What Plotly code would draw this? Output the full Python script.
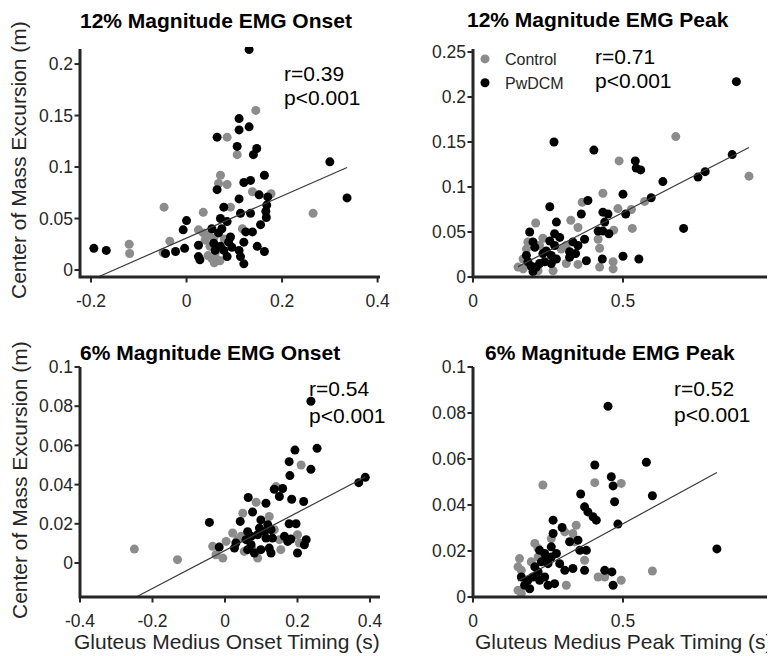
import plotly.graph_objects as go

# screenshot size and page offset (browser body margin)
SW, SH = 775, 656
OFF = 8
W, H = SW - OFF, SH - OFF

# ---------------- data ----------------
# Panel A: 12% Magnitude EMG Onset
a_ctrl_x = [0.145, 0.085, 0.106, 0.071, 0.067, 0.085, 0.138, 0.177, 0.265, -0.047, -0.120, -0.119,
            -0.049, -0.035, 0.035, 0.092, 0.117, 0.025, 0.035, 0.046, 0.057, 0.039, 0.049, 0.060,
            0.064, 0.053, 0.058, 0.070, 0.045, 0.079]
a_ctrl_y = [0.155, 0.129, 0.112, 0.092, 0.084, 0.083, 0.076, 0.074, 0.055, 0.061, 0.025, 0.016,
            0.017, 0.028, 0.056, 0.061, 0.040, 0.039, 0.036, 0.034, 0.031, 0.029, 0.023, 0.016,
            0.010, 0.011, 0.007, 0.009, 0.014, 0.030]
a_pw_x = [0.131, -0.194, -0.168, -0.044, -0.023, -0.007, 0.000, -0.004, 0.025, 0.025, 0.028,
          0.064, 0.064, 0.110, 0.110, 0.106, 0.131, 0.147, 0.140, 0.120, 0.134, 0.163, 0.110,
          0.152, 0.170, 0.168, 0.166, 0.167, 0.078, 0.134, 0.113, 0.155, 0.071, 0.085, 0.074,
          0.053, 0.067, 0.092, 0.088, 0.095, 0.124, 0.138, 0.120, 0.148, 0.163, 0.057, 0.071,
          0.060, 0.078, 0.085, 0.110, 0.113, 0.120, 0.300, 0.336]
a_pw_y = [0.214, 0.021, 0.019, 0.016, 0.018, 0.039, 0.048, 0.021, 0.024, 0.013, 0.010,
          0.129, 0.078, 0.147, 0.136, 0.120, 0.139, 0.118, 0.112, 0.085, 0.087, 0.092, 0.069,
          0.073, 0.071, 0.063, 0.057, 0.051, 0.061, 0.055, 0.055, 0.044, 0.050, 0.047, 0.040,
          0.040, 0.036, 0.032, 0.027, 0.022, 0.037, 0.037, 0.027, 0.023, 0.018, 0.026, 0.023,
          0.019, 0.019, 0.013, 0.019, 0.013, 0.006, 0.105, 0.070]

# Panel B: 12% Magnitude EMG Peak
b_ctrl_x = [0.676, 0.487, 0.920, 0.433, 0.364, 0.572, 0.483, 0.528, 0.531, 0.469, 0.326, 0.209,
            0.350, 0.417, 0.422, 0.183, 0.233, 0.222, 0.294, 0.311, 0.150, 0.167, 0.217, 0.267,
            0.311, 0.350, 0.422, 0.467, 0.467, 0.178, 0.167]
b_ctrl_y = [0.156, 0.129, 0.112, 0.093, 0.083, 0.084, 0.076, 0.075, 0.054, 0.052, 0.063, 0.060,
            0.055, 0.042, 0.032, 0.039, 0.043, 0.035, 0.031, 0.035, 0.011, 0.009, 0.007, 0.007,
            0.015, 0.014, 0.011, 0.017, 0.009, 0.031, 0.020]
b_pw_x = [0.878, 0.270, 0.403, 0.541, 0.544, 0.559, 0.633, 0.500, 0.594, 0.750, 0.774, 0.864,
          0.702, 0.383, 0.256, 0.361, 0.433, 0.450, 0.509, 0.278, 0.439, 0.433, 0.417, 0.453,
          0.189, 0.272, 0.289, 0.200, 0.206, 0.372, 0.333, 0.350, 0.256, 0.272, 0.244, 0.261,
          0.233, 0.322, 0.342, 0.322, 0.178, 0.183, 0.194, 0.211, 0.200, 0.222, 0.239, 0.278,
          0.261, 0.378, 0.431, 0.500, 0.553]
b_pw_y = [0.217, 0.150, 0.141, 0.129, 0.121, 0.119, 0.106, 0.092, 0.088, 0.111, 0.117, 0.136,
          0.054, 0.085, 0.078, 0.070, 0.072, 0.070, 0.070, 0.061, 0.061, 0.051, 0.051, 0.048,
          0.050, 0.048, 0.044, 0.039, 0.033, 0.042, 0.039, 0.035, 0.040, 0.035, 0.029, 0.024,
          0.026, 0.028, 0.026, 0.022, 0.024, 0.017, 0.012, 0.011, 0.006, 0.015, 0.017, 0.020,
          0.015, 0.018, 0.020, 0.023, 0.020]

# Panel C: 6% Magnitude EMG Onset
c_ctrl_x = [0.210, 0.141, 0.086, 0.049, 0.122, 0.021, 0.044, 0.035, 0.003, -0.034, -0.025, -0.006,
            0.076, 0.090, 0.053, 0.150, 0.154, 0.200, 0.205, 0.136, -0.250, -0.131]
c_ctrl_y = [0.0500, 0.0390, 0.0310, 0.0254, 0.0237, 0.0153, 0.0136, 0.0119, 0.0110, 0.0085, 0.0042,
            0.0025, 0.0068, 0.0025, 0.0059, 0.0119, 0.0068, 0.0144, 0.0102, 0.0170, 0.0071, 0.0017]
c_pw_x = [0.237, 0.254, 0.193, 0.177, 0.237, 0.179, 0.369, 0.387, 0.136, 0.159, 0.150, 0.184,
          0.217, 0.064, 0.113, 0.076, -0.043, 0.042, 0.099, 0.118, 0.095, 0.109, 0.127, 0.090,
          0.113, 0.131, 0.177, 0.196, 0.0625, 0.072, 0.058, 0.072, 0.0625, 0.081, 0.030, 0.026,
          -0.016, 0.122, 0.127, 0.099, 0.164, 0.173, 0.182, 0.224, 0.219, 0.200]
c_pw_y = [0.0825, 0.0585, 0.0576, 0.0517, 0.0478, 0.0446, 0.0410, 0.0437, 0.0376, 0.0380, 0.0339,
          0.0325, 0.0314, 0.0334, 0.0305, 0.0260, 0.0207, 0.0212, 0.0220, 0.0195, 0.0178, 0.0160,
          0.0170, 0.0144, 0.0127, 0.0127, 0.0200, 0.0200, 0.0160, 0.0136, 0.0119, 0.0093, 0.0068,
          0.0051, 0.0102, 0.0076, 0.0081, 0.0076, 0.0051, 0.0068, 0.0136, 0.0110, 0.0122, 0.0119,
          0.0093, 0.0051]

# Panel D: 6% Magnitude EMG Peak
d_ctrl_x = [0.233, 0.406, 0.494, 0.206, 0.217, 0.261, 0.306, 0.333, 0.344, 0.339, 0.372, 0.155,
            0.150, 0.161, 0.150, 0.161, 0.311, 0.417, 0.439, 0.494, 0.217, 0.194, 0.598]
d_ctrl_y = [0.0487, 0.0497, 0.0494, 0.0233, 0.0211, 0.0254, 0.0283, 0.0276, 0.0312, 0.0240, 0.0160,
            0.0167, 0.0131, 0.0116, 0.0029, 0.0015, 0.0051, 0.0087, 0.0087, 0.0073, 0.0174, 0.0153,
            0.0113]
d_pw_x = [0.450, 0.406, 0.578, 0.461, 0.467, 0.598, 0.472, 0.359, 0.372, 0.383, 0.400, 0.411,
          0.483, 0.267, 0.297, 0.267, 0.322, 0.350, 0.356, 0.378, 0.222, 0.239, 0.244, 0.228,
          0.250, 0.261, 0.261, 0.278, 0.289, 0.306, 0.333, 0.372, 0.439, 0.463, 0.467, 0.206,
          0.217, 0.200, 0.222, 0.239, 0.183, 0.161, 0.172, 0.189, 0.250, 0.272, 0.813]
d_pw_y = [0.0829, 0.0574, 0.0586, 0.0523, 0.0483, 0.0440, 0.0414, 0.0448, 0.0392, 0.0370, 0.0349,
          0.0334, 0.0317, 0.0334, 0.0302, 0.0276, 0.0240, 0.0247, 0.0203, 0.0203, 0.0203, 0.0189,
          0.0167, 0.0153, 0.0145, 0.0218, 0.0174, 0.0189, 0.0145, 0.0116, 0.0124, 0.0116, 0.0116,
          0.0109, 0.0051, 0.0131, 0.0109, 0.0087, 0.0073, 0.0087, 0.0073, 0.0087, 0.0051, 0.0036,
          0.0051, 0.0058, 0.0209]

# regression lines (slope, intercept) and stats text
fit_slope = [0.204, 0.172, 0.0969, 0.0711]
fit_intercept = [0.031, -0.0143, 0.0064, -0.0037]
r_text = ["r=0.39", "r=0.71", "r=0.54", "r=0.52"]
p_text = ["p&lt;0.001", "p&lt;0.001", "p&lt;0.001", "p&lt;0.001"]
titles = ["12% Magnitude EMG Onset", "12% Magnitude EMG Peak",
          "6% Magnitude EMG Onset", "6% Magnitude EMG Peak"]
x_titles = ["Gluteus Medius Onset Timing (s)", "Gluteus Medius Peak Timing (s)"]
y_title = "Center of Mass Excursion (m)"

# axis limits (as in the reference) and ticks
x_limits = [[-0.223, 0.405], [0, 1.0067], [-0.4, 0.4276], [0, 1.0067]]
y_limits = [[-0.0068, 0.2146], [0, 0.2533], [-0.01735, 0.1], [0, 0.1]]
x_ticks = [[-0.2, 0, 0.2, 0.4], [0, 0.5, 1], [-0.4, -0.2, 0, 0.2, 0.4], [0, 0.5, 1]]
x_ticktext = [["-0.2", "0", "0.2", "0.4"], ["0", "0.5", "1"],
              ["-0.4", "-0.2", "0", "0.2", "0.4"], ["0", "0.5", "1"]]
y_ticks = [[0, 0.05, 0.1, 0.15, 0.2], [0, 0.05, 0.1, 0.15, 0.2, 0.25],
           [0, 0.02, 0.04, 0.06, 0.08, 0.1], [0, 0.02, 0.04, 0.06, 0.08, 0.1]]
y_ticktext = [["0", "0.05", "0.1", "0.15", "0.2"], ["0", "0.05", "0.1", "0.15", "0.2", "0.25"],
              ["0", "0.02", "0.04", "0.06", "0.08", "0.1"], ["0", "0.02", "0.04", "0.06", "0.08", "0.1"]]

panels = [
    (a_ctrl_x, a_ctrl_y, a_pw_x, a_pw_y),
    (b_ctrl_x, b_ctrl_y, b_pw_x, b_pw_y),
    (c_ctrl_x, c_ctrl_y, c_pw_x, c_pw_y),
    (d_ctrl_x, d_ctrl_y, d_pw_x, d_pw_y),
]

# ---------------- layout geometry (screen pixels) ----------------
boxes = [(80, 380, 49, 277), (473, 775, 49, 277), (80, 380, 367, 597), (473, 775, 367, 597)]
PAD_L, PAD_B, PAD_T = 6, 11, 2     # extra plot area holding axis lines and outward ticks
TICK_PX = 5.5


def px(x):
    return (x - OFF) / W


def py(y):
    return 1 - (y - OFF) / H


FONT = "Liberation Sans, Arial, Helvetica, sans-serif"
GRAY = "#8c8c8c"
AXC = "#262626"
LINEC = "#262626"

fig = go.Figure()
layout = {}

for i, (cx, cy, pxs, pys) in enumerate(panels):
    xa = "x" if i == 0 else f"x{i+1}"
    ya = "y" if i == 0 else f"y{i+1}"
    xk = "xaxis" if i == 0 else f"xaxis{i+1}"
    yk = "yaxis" if i == 0 else f"yaxis{i+1}"
    L, R, T, B = boxes[i]
    x0l, x1l = x_limits[i]
    y0l, y1l = y_limits[i]
    sx = (R - L) / (x1l - x0l)
    sy = (B - T) / (y1l - y0l)

    fig.add_trace(go.Scatter(x=cx, y=cy, mode="markers", name="Control",
                             marker=dict(color=GRAY, size=9, line=dict(width=0)),
                             xaxis=xa, yaxis=ya, showlegend=(i == 1)))
    fig.add_trace(go.Scatter(x=pxs, y=pys, mode="markers", name="PwDCM",
                             marker=dict(color="#000000", size=9, line=dict(width=0)),
                             xaxis=xa, yaxis=ya, showlegend=(i == 1)))

    # regression line across the data range, clipped at the lower axis limit
    allx = list(cx) + list(pxs)
    xs = max(min(allx), (y0l - fit_intercept[i]) / fit_slope[i])
    lx = [xs, max(allx)]
    ly = [fit_intercept[i] + fit_slope[i] * v for v in lx]
    fig.add_trace(go.Scatter(x=lx, y=ly, mode="lines", line=dict(color="#3a3a3a", width=1.2),
                             xaxis=xa, yaxis=ya, showlegend=False, hoverinfo="skip"))

    # axis lines (left + bottom) along the axis limits
    fig.add_trace(go.Scatter(x=[x0l, x0l, x1l], y=[y1l, y0l, y0l], mode="lines",
                             line=dict(color=LINEC, width=3), xaxis=xa, yaxis=ya,
                             showlegend=False, hoverinfo="skip"))
    # outward tick marks
    tx, ty = [], []
    for v in x_ticks[i]:
        tx += [v, v, None]
        ty += [y0l, y0l - TICK_PX / sy, None]
    for v in y_ticks[i]:
        tx += [x0l, x0l - TICK_PX / sx, None]
        ty += [v, v, None]
    fig.add_trace(go.Scatter(x=tx, y=ty, mode="lines", line=dict(color=LINEC, width=2),
                             xaxis=xa, yaxis=ya, showlegend=False, hoverinfo="skip"))

    layout[xk] = dict(
        domain=[px(L - PAD_L), min(1.0, px(R))],
        range=[x0l - PAD_L / sx, x1l], anchor=ya, tickmode="array",
        tickvals=x_ticks[i], ticktext=x_ticktext[i],
        showline=False, ticks="", showgrid=False, zeroline=False, automargin=False,
        tickfont=dict(family=FONT, size=17.5, color=AXC))
    layout[yk] = dict(
        domain=[py(B + PAD_B), py(T - PAD_T)],
        range=[y0l - PAD_B / sy, y1l + PAD_T / sy], anchor=xa, tickmode="array",
        tickvals=y_ticks[i], ticktext=y_ticktext[i],
        showline=False, ticks="", showgrid=False, zeroline=False, automargin=False,
        tickfont=dict(family=FONT, size=17.5, color=AXC))

ann = []
title_pos = [(216, 21), (598, 20), (210, 352), (610, 352)]
for i in range(4):
    ann.append(dict(text=f"<b>{titles[i]}</b>", x=px(title_pos[i][0]), y=py(title_pos[i][1]),
                    xref="paper", yref="paper", xanchor="center", yanchor="middle",
                    showarrow=False, font=dict(family=FONT, size=21, color="#000000")))
stat_pos = [(282, 73, 98), (593, 56, 80), (307, 389, 415), (672, 388, 414)]
for i in range(4):
    sx_, ry, pyy = stat_pos[i]
    ann.append(dict(text=r_text[i], x=px(sx_), y=py(ry), xref="paper", yref="paper",
                    xanchor="left", yanchor="middle", showarrow=False,
                    font=dict(family=FONT, size=21, color="#000000")))
    ann.append(dict(text=p_text[i], x=px(sx_), y=py(pyy), xref="paper", yref="paper",
                    xanchor="left", yanchor="middle", showarrow=False,
                    font=dict(family=FONT, size=21, color="#000000")))
for yc in (160, 480):
    ann.append(dict(text=y_title, x=px(19), y=py(yc), xref="paper", yref="paper",
                    xanchor="center", yanchor="middle", textangle=-90, showarrow=False,
                    font=dict(family=FONT, size=21, color=AXC)))
for xc, t in zip((227, 624), x_titles):
    ann.append(dict(text=t, x=px(xc), y=py(641), xref="paper", yref="paper",
                    xanchor="center", yanchor="middle", showarrow=False,
                    font=dict(family=FONT, size=21, color=AXC)))

fig.update_layout(
    width=W, height=H, margin=dict(l=0, r=0, t=0, b=0, pad=0, autoexpand=False),
    paper_bgcolor="white", plot_bgcolor="white",
    annotations=ann,
    legend=dict(x=px(465), y=py(42), xanchor="left", yanchor="top",
                bgcolor="rgba(0,0,0,0)", font=dict(family=FONT, size=16, color=AXC),
                itemwidth=30, tracegroupgap=0),
    **layout,
)

fig.write_html("out.html")
